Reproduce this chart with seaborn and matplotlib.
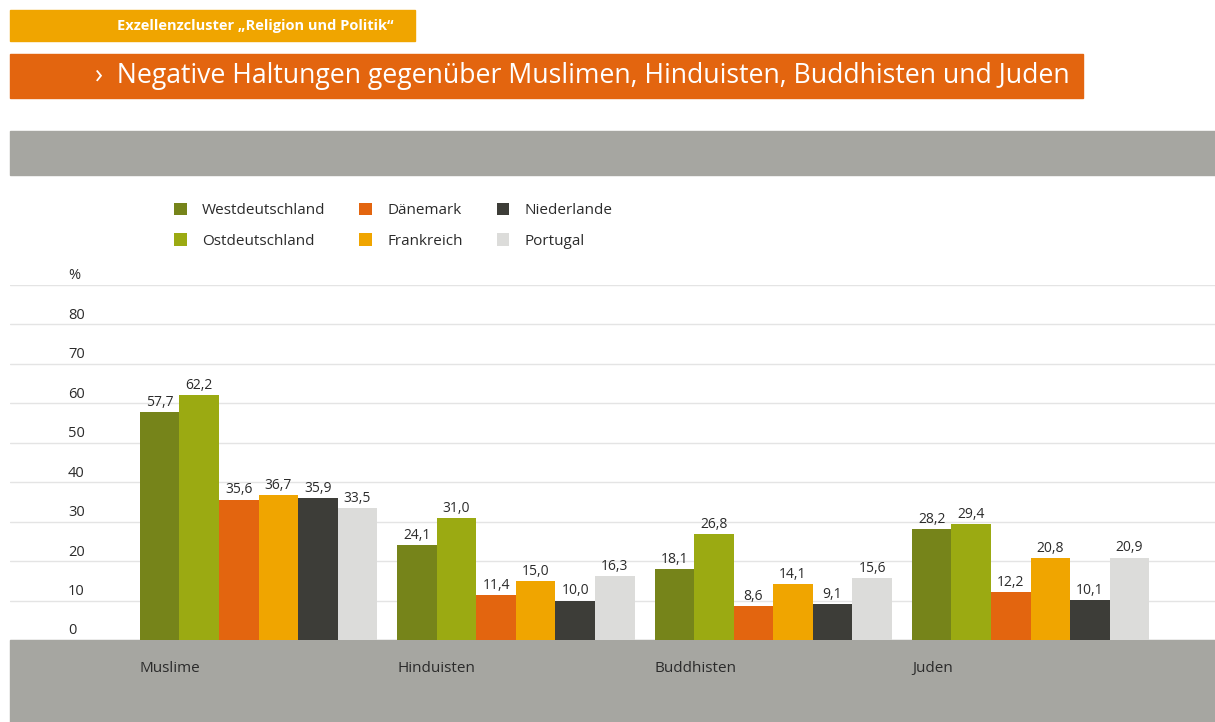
import matplotlib
matplotlib.use("Agg")
import matplotlib.pyplot as plt
import seaborn as sns
import pandas as pd
from matplotlib.patches import Rectangle

# data
categories = ['Muslime', 'Hinduisten', 'Buddhisten', 'Juden']
countries = ['Westdeutschland', 'Ostdeutschland', 'Dänemark', 'Frankreich', 'Niederlande', 'Portugal']
westdeutschland = [57.7, 24.1, 18.1, 28.2]
ostdeutschland = [62.2, 31.0, 26.8, 29.4]
daenemark = [35.6, 11.4, 8.6, 12.2]
frankreich = [36.7, 15.0, 14.1, 20.8]
niederlande = [35.9, 10.0, 9.1, 10.1]
portugal = [33.5, 16.3, 15.6, 20.9]
y_ticks = [0, 10, 20, 30, 40, 50, 60, 70, 80]

colors = ['#76841A', '#9BAA12', '#E3650F', '#F0A500', '#3D3D38', '#DCDCDA']
band_gray = '#A6A6A1'
text_col = '#2B2B2B'
FONT = 'Open Sans'

series = [westdeutschland, ostdeutschland, daenemark, frankreich, niederlande, portugal]
records = []
for country, vals in zip(countries, series):
    for cat, v in zip(categories, vals):
        records.append({'Kategorie': cat, 'Land': country, 'Wert': v})
df = pd.DataFrame(records)

sns.set_theme(style="white")
plt.rcParams['font.family'] = [FONT, 'DejaVu Sans']

W, H = 1215, 722
fig = plt.figure(figsize=(W / 100, H / 100), dpi=100)

def px(x0, y0, x1, y1):
    # pixel box (top-left origin) -> figure fraction rect
    return (x0 / W, 1 - y1 / H, (x1 - x0) / W, (y1 - y0) / H)

# header bars and gray bands
for (x0, y0, x1, y1), c in [((10, 10, 415, 41), '#F0A500'),
                            ((10, 54, 1083, 98), '#E3650F'),
                            ((10, 131, W, 175), band_gray),
                            ((10, 640, W, H), band_gray)]:
    l, b, w, h = px(x0, y0, x1, y1)
    fig.patches.append(Rectangle((l, b), w, h, transform=fig.transFigure,
                                 color=c, zorder=-10))

fig.text(117 / W, 1 - 26 / H, 'Exzellenzcluster „Religion und Politik“', color='white',
         fontsize=10.5, fontweight='bold', va='center', ha='left')
fig.text(95 / W, 1 - 76 / H, '›  Negative Haltungen gegenüber Muslimen, Hinduisten, Buddhisten und Juden',
         color='white', fontsize=19.2, va='center', ha='left')

# axes
ax = fig.add_axes(px(10, 285, W, 640))
ax.set_facecolor('none')
ax.patch.set_visible(False)
bar_width = 0.922
sns.barplot(data=df, x='Kategorie', y='Wert', hue='Land', order=categories,
            hue_order=countries, palette=colors, saturation=1, width=bar_width,
            gap=0, linewidth=0, ax=ax, legend=True)

ax.set_xlim(-0.966, 3.717)
ax.set_ylim(0, 90)
ax.set_yticks(y_ticks + [90])
ax.yaxis.grid(True, color='#E4E4E4', linewidth=1)
ax.set_axisbelow(True)
ax.tick_params(left=False, bottom=False, labelleft=False, labelbottom=False)
ax.set_xlabel('')
ax.set_ylabel('')
for s in ax.spines.values():
    s.set_visible(False)

# y labels sitting just above the gridlines
ytr = ax.get_yaxis_transform()
lx = (68 - 10) / (W - 10)
for t in y_ticks:
    ax.text(lx, t + 0.4, str(t), transform=ytr, ha='left', va='bottom',
            fontsize=10.5, color=text_col)
ax.text(lx, 90 + 0.4, '%', transform=ytr, ha='left', va='bottom',
        fontsize=10.5, color=text_col)

# value labels
for cont in ax.containers:
    ax.bar_label(cont, labels=[f"{b.get_height():.1f}".replace('.', ',') for b in cont],
                 padding=1.5, fontsize=10, color=text_col)

# category labels under the groups
xtr = ax.get_xaxis_transform()
for i, cat in enumerate(categories):
    ax.text(i - bar_width / 2, -0.08, cat, transform=xtr, ha='left', va='center',
            fontsize=11, color=text_col, clip_on=False, zorder=5)

# legend
handles, labels = ax.get_legend_handles_labels()
ax.get_legend().remove()
fig.legend(handles, labels, ncol=3, loc='upper left',
           bbox_to_anchor=(160 / W, 1 - 189 / H), frameon=False,
           fontsize=11, handlelength=0.85, handleheight=0.85,
           handletextpad=1.0, columnspacing=2.2, labelspacing=1.0,
           labelcolor=text_col)

fig.savefig('out.png', dpi=100)
